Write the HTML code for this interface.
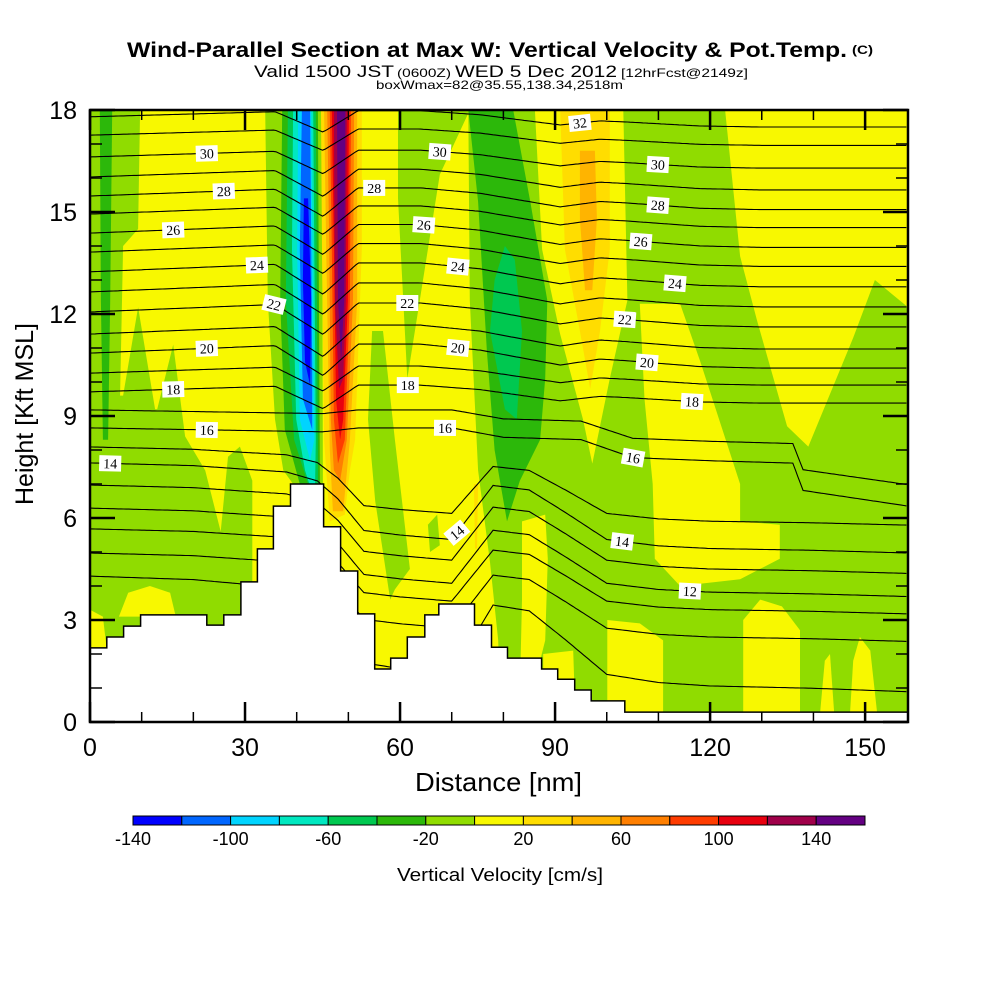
<!DOCTYPE html>
<html><head><meta charset="utf-8"><style>
html,body{margin:0;padding:0;background:#fff;}
svg{display:block;font-family:"Liberation Sans",sans-serif;}
</style></head><body>
<svg id="chart" width="1000" height="1000" viewBox="0 0 1000 1000" xmlns="http://www.w3.org/2000/svg">
<rect width="1000" height="1000" fill="#fff"/>
<g>
<text x="127" y="57" font-size="21" font-weight="bold" textLength="720" lengthAdjust="spacingAndGlyphs">Wind-Parallel Section at Max W: Vertical Velocity &amp; Pot.Temp.</text>
<text x="852" y="54" font-size="12" font-weight="bold" textLength="21" lengthAdjust="spacingAndGlyphs">(C)</text>
<text x="254" y="77" font-size="17" textLength="140" lengthAdjust="spacingAndGlyphs">Valid 1500 JST</text>
<text x="397" y="77" font-size="12" textLength="54" lengthAdjust="spacingAndGlyphs">(0600Z)</text>
<text x="455" y="77" font-size="17" textLength="162" lengthAdjust="spacingAndGlyphs">WED 5 Dec 2012</text>
<text x="621" y="77" font-size="12" textLength="127" lengthAdjust="spacingAndGlyphs">[12hrFcst@2149z]</text>
<text x="376" y="89" font-size="12" textLength="247" lengthAdjust="spacingAndGlyphs">boxWmax=82@35.55,138.34,2518m</text>
</g>
<defs><clipPath id="plotClip"><rect x="90" y="110" width="818" height="612"/></clipPath></defs>
<g id="fills" clip-path="url(#plotClip)"></g>
<g id="contours" clip-path="url(#plotClip)"></g>
<g id="terrain"></g>
<g id="labels" clip-path="url(#plotClip)"></g>
<g id="axes"></g>
<g id="colorbar"></g>
</svg>
<script>
// ---- data ----
const xMax = 158.3, yMax = 18;
const yTicks = [0,3,6,9,12,15,18];
const xTicks = [0,30,60,90,120,150];
const cbLevels = [-140,-120,-100,-80,-60,-40,-20,0,20,40,60,80,100,120,140,160];
const cbColors = ["#0000ff","#0066ff","#00d4ff","#00e8c0","#00c850","#2cb80a","#90dc00","#f8f800","#ffdd00","#ffb400","#ff7f00","#ff3c00","#e8000f","#a0004a","#640082"];
const cbLabels = [-140,-100,-60,-20,20,60,100,140];

const terrainEdges = [0,3.25,6.5,9.8,22.6,25.9,29.2,32.4,35.5,38.8,45.2,48.5,51.8,55.1,58.2,61.4,64.8,67.5,74.4,77.7,80.8,87.4,90.5,93.8,97.0,103.5,158.3];
const terrainHeights = [2.18,2.5,2.82,3.15,2.85,3.15,4.12,5.09,6.35,7.0,5.74,4.44,3.18,1.56,1.88,2.5,3.15,3.47,2.85,2.2,1.88,1.56,1.26,0.94,0.62,0.29];

const thetaLevels = [9,10,11,12,13,14,15,16,17,18,19,20,21,22,23,24,25,26,27,28,29,30,31,32];
const thetaLeft = [4.29,4.97,5.68,6.29,6.97,7.62,8.09,8.65,9.18,9.71,10.26,10.85,11.41,12.06,12.65,13.24,13.82,14.38,14.94,15.47,16.03,16.62,17.26,17.8];
const thetaDrop = [3.4,2.6,2.5,2.6,2.6,2.65,2.3,2.3,2.2,0.33,0.35,0.44,0.44,0.44,0.44,0.44,0.42,0.42,0.4,0.4,0.38,0.33,0.3,0.3];
const thetaShape = [0,0,0,0,0,0,0,1,1,2,2,2,2,2,2,2,2,2,2,2,2,2,2,2];
const shapeKnots = [
 [0,20,30,38,44,48,53,60,70,74,78,85,92,100,110,120,140,158.3],
 [0,45,52,70,80,95,105,120,136,138,158.3],
 [0,35.8,45.1,51.9,63.9,75.5,91,98.7,103.5,118,129.7,158.3]];
const shapeVals = [
 [0,0.03,0.07,0.1,0.2,0.4,0.75,0.8,0.85,0.55,0.25,0.3,0.55,0.85,0.92,0.95,0.97,1],
 [0,0.05,0,0,0.12,0.15,0.38,0.42,0.45,0.8,1],
 [0,-0.5,1.5,-0.6,-0.6,-0.2,0.8,0.4,0.5,0.9,1,1]];

const labelLevels = [30,28,26,24,22,20,18,16,14,30,28,26,24,22,20,18,16,32,30,28,26,24,22,20,18,16,14,14,12];
const labelDist = [22.6,25.9,16.1,32.3,35.6,22.6,16.1,22.6,3.9,67.7,55.0,64.6,71.2,61.4,71.2,61.5,68.7,94.8,109.9,109.9,106.6,113.2,103.5,107.8,116.5,105.1,71,103,116.1];

const regionColors = ["#90dc00","#90dc00","#f8f800","#f8f800","#2cb80a",
 "#90dc00","#2cb80a","#00c850","#00e8c0","#00d4ff","#0066ff","#0000ff",
 "#ffdd00","#ffb400","#ff7f00","#ff3c00","#e8000f","#a0004a","#640082",
 "#90dc00","#90dc00","#90dc00","#90dc00",
 "#f8f800","#ffdd00","#ffb400","#f8f800","#f8f800","#f8f800","#f8f800","#f8f800","#f8f800","#f8f800","#f8f800",
 "#2cb80a","#00c850","#ffdd00"];
const regionPolys = [
 [[0,18],[9.7,18],[9.3,14.5],[6.4,14.0],[5.8,9.5],[0,8.9]],
 [[0,9.2],[5.8,9.6],[6.4,9.6],[9.3,12.2],[12.6,9.2],[13.0,9.2],[16.1,11.1],[18.4,8.4],[22.3,7.4],[25.3,5.6],[26.7,7.8],[29.0,8.1],[31.4,7.1],[31.4,0],[0,0]],
 [[0,3.3],[2.5,3.1],[3.2,2.2],[0,2.1]],
 [[5.6,3.1],[7.4,3.8],[11.6,4.0],[15.5,3.8],[16.6,3.1]],
 [[1.9,18],[4.3,18],[3.9,12.4],[3.5,8.3],[2.5,8.3],[2.1,12.4]],
 [[33.9,18],[44.9,18],[45.1,5.7],[41.6,5.7],[39.3,7.0],[37.4,7.4],[35.8,8.9],[34.4,12.4]],
 [[37.2,18],[44.1,18],[44.5,7.1],[44.9,5.7],[42.6,5.7],[40.6,7.0],[37.7,8.6],[36.8,12.4]],
 [[38.3,18],[43.7,18],[44.1,7.4],[44.1,5.9],[42.6,6.8],[39.5,8.3],[37.9,12.4]],
 [[39.3,18],[43.2,18],[43.7,8.3],[43.5,6.5],[41.6,7.4],[39.9,8.9],[39.1,13.9]],
 [[40.3,18],[42.8,18],[43.4,8.3],[42.6,7.7],[40.6,8.9],[40.1,13.9]],
 [[41.0,18],[42.6,18],[43.0,10.4],[43.0,8.6],[41.2,9.5],[40.6,13.9]],
 [[41.4,15.4],[42.2,15.4],[42.8,12.4],[42.6,9.9],[41.6,10.6],[41.2,13.0]],
 [[44.7,18],[52.6,18],[52.6,13.9],[51.3,8.3],[50.3,7.4],[49.3,6.1],[46.4,5.9],[45.7,7.4],[45.3,8.3],[44.9,13.9]],
 [[45.3,18],[51.7,18],[51.7,12.4],[50.3,8.3],[49.0,6.2],[47.0,6.2],[46.4,8.0],[45.7,13.9]],
 [[45.9,18],[51.1,18],[50.9,12.4],[49.7,8.3],[48.4,7.1],[47.2,7.4],[46.6,8.9],[46.3,13.9]],
 [[46.4,18],[50.5,18],[50.3,12.4],[49.3,8.3],[48.0,7.6],[47.2,8.9],[46.8,13.9]],
 [[46.8,18],[50.1,18],[49.9,12.4],[49.0,8.9],[48.4,8.3],[47.6,9.5],[47.2,13.9]],
 [[47.2,18],[49.7,18],[49.5,12.4],[49.0,10.1],[48.2,9.8],[47.4,12.4]],
 [[47.8,18],[49.4,18],[49.2,12.4],[48.6,10.6],[48.0,12.4]],
 [[54.6,11.5],[56.7,11.5],[59.0,8.3],[61.9,4.5],[59.0,3.9],[58.1,3.6],[55.2,6.5],[53.8,8.9]],
 [[65.4,5.8],[67.2,6.1],[67.7,5.2],[65.8,5.0]],
 [[59.6,18],[73.5,18],[67.7,16.1],[61.4,10.1],[59.6,15.4]],
 [[73.2,18],[158.3,18],[158.3,0],[79.4,0],[79.0,2.4],[77.4,4.7],[75.1,7.4],[73.5,12.4]],
 [[86.1,18],[103.2,18],[104,12.4],[100.6,10.1],[97.2,7.6],[95.4,8.9],[91.0,11.4],[87.5,13.9]],
 [[91.0,18],[100.6,18],[100.6,13.9],[98.7,11.5],[96.8,9.8],[94.8,11.5],[91.9,13.9]],
 [[94.8,16.8],[97.7,16.8],[98.1,14.8],[97.2,12.7],[95.8,12.7],[94.8,14.8]],
 [[106.4,12.3],[114.2,12.3],[118.1,10.6],[125.8,7.0],[125.8,5.9],[133.5,5.8],[133.5,4.8],[125.8,4.2],[114.2,4.0],[109.3,4.8],[108.9,7.0],[107.3,9.5]],
 [[122.9,18],[158.3,18],[158.3,12.2],[151.9,13.0],[147.7,11.3],[139,8.1],[134.9,8.7],[129.1,11.8],[125.8,13.7]],
 [[83.6,5.9],[88.1,6.1],[88.6,4.8],[88.1,2.4],[86.1,1.2],[83.2,0.9],[83.6,3.6]],
 [[87.7,2.0],[93.5,2.1],[93.9,0.3],[87.7,0.3]],
 [[100.1,3.0],[106.4,2.9],[110.9,2.4],[110.9,0],[100.1,0]],
 [[126.4,3.0],[129.7,3.6],[133.9,3.4],[137.4,2.7],[137.4,0],[126.4,0]],
 [[141.3,0.3],[142.2,1.8],[143.2,2.0],[144,0.3]],
 [[147.1,0.3],[147.7,1.8],[149,2.5],[151,2.1],[152.3,0.3]],
 [[73.2,18],[81.9,18],[85.2,15.3],[88.5,12.4],[88.1,10.1],[87.1,8.3],[83.2,7.1],[80.7,5.9],[78.3,8.0],[76.8,10.9],[75.1,15.3]],
 [[80.3,14.0],[82.2,13.6],[83.6,11.5],[82.6,8.9],[80.3,9.2],[77.4,11.5],[78.3,13.0]],
 [[74.3,7.0],[75.1,7.0],[74.9,5.1],[74.5,5.1]]
];

// ---- scales ----
const PX0=90, PX1=908, PY0=722, PY1=110;
const X = nm => PX0 + nm*(PX1-PX0)/xMax;
const Y = k => PY0 - k*(PY0-PY1)/yMax;
const NS = "http://www.w3.org/2000/svg";
function mk(tag, attrs, parent){const e=document.createElementNS(NS,tag);for(const k in attrs)e.setAttribute(k,attrs[k]);parent.appendChild(e);return e;}
function interp(xs, vs, x){ if(x<=xs[0])return vs[0]; for(let i=1;i<xs.length;i++){ if(x<=xs[i]){const t=(x-xs[i-1])/(xs[i]-xs[i-1]);return vs[i-1]+t*(vs[i]-vs[i-1]);} } return vs[vs.length-1]; }
function thetaY(i, nm){ const s=thetaShape[i]; return thetaLeft[i] - thetaDrop[i]*interp(shapeKnots[s], shapeVals[s], nm); }

const fills=document.getElementById('fills');
const bg=mk('rect',{x:PX0,y:PY1,width:PX1-PX0,height:PY0-PY1,fill:"#f8f800"},fills);


regionPolys.forEach((poly,i)=>{
  const p=mk('polygon',{points:poly.map(q=>X(q[0]).toFixed(1)+","+Y(q[1]).toFixed(1)).join(" "),fill:regionColors[i]},fills);
  
  
});

const cg=document.getElementById('contours');
thetaLevels.forEach((lv,i)=>{
  let d="";
  for(let nm=0; nm<=xMax+0.01; nm+=0.5){ d+=(nm===0?"M":"L")+X(nm).toFixed(1)+","+Y(thetaY(i,nm)).toFixed(1); }
  const p=mk('path',{d:d,fill:"none",stroke:"#000","stroke-width":1.1},cg);
  
  
});

const tg=document.getElementById('terrain');
let td="M"+X(0)+","+Y(0);
terrainHeights.forEach((h,i)=>{ td+=" L"+X(terrainEdges[i]).toFixed(1)+","+Y(h).toFixed(1)+" L"+X(terrainEdges[i+1]).toFixed(1)+","+Y(h).toFixed(1); });
td+=" L"+X(xMax)+","+Y(0)+" Z";
const tp=mk('path',{d:td,fill:"#fff",stroke:"#000","stroke-width":1.5},tg);



const lg=document.getElementById('labels');
labelLevels.forEach((lv,j)=>{
  const i=thetaLevels.indexOf(lv); const nm=labelDist[j];
  const x=X(nm), y=Y(thetaY(i,nm));
  const dy=Y(thetaY(i,nm+1.5))-Y(thetaY(i,nm-1.5)), dx=X(nm+1.5)-X(nm-1.5);
  let ang=Math.atan2(dy,dx)*180/Math.PI; ang=Math.max(-40,Math.min(40,ang));
  const g=mk('g',{transform:`translate(${x.toFixed(1)},${y.toFixed(1)}) rotate(${ang.toFixed(1)})`},lg);
  
  
  mk('rect',{x:-11,y:-8,width:22,height:16,fill:"#fff"},g);
  const t=mk('text',{x:0,y:5,"text-anchor":"middle","font-size":14,"font-family":"Liberation Serif, serif"},g);
  t.textContent=lv;
});

const ag=document.getElementById('axes');
const fr=mk('rect',{x:PX0,y:PY1,width:PX1-PX0,height:PY0-PY1,fill:"none",stroke:"#000","stroke-width":2.5},ag);


for(let k=0;k<=yMax;k++){
  const maj=k%3===0, L=maj?25:12, y=Y(k);
  mk('line',{x1:PX0,y1:y,x2:PX0+L,y2:y,stroke:"#000","stroke-width":maj?2.5:1.5},ag);
  mk('line',{x1:PX1,y1:y,x2:PX1-L,y2:y,stroke:"#000","stroke-width":maj?2.5:1.5},ag);
}
for(let n=0;n<=xMax;n+=10){
  const maj=n%30===0, L=maj?20:10, x=X(n);
  mk('line',{x1:x,y1:PY0,x2:x,y2:PY0-L,stroke:"#000","stroke-width":maj?2.5:1.5},ag);
  mk('line',{x1:x,y1:PY1,x2:x,y2:PY1+L,stroke:"#000","stroke-width":maj?2.5:1.5},ag);
}
yTicks.forEach(v=>{
  const t=mk('text',{x:77,y:Y(v)+9,"text-anchor":"end","font-size":25},ag);
  
  
  t.textContent=v;
});
xTicks.forEach(v=>{
  const t=mk('text',{x:X(v),y:756,"text-anchor":"middle","font-size":25},ag);
  
  
  t.textContent=v;
});
const xt=mk('text',{x:415,y:791,"font-size":26,textLength:167,lengthAdjust:"spacingAndGlyphs"},ag);


xt.textContent="Distance [nm]";
const yt=mk('text',{x:0,y:0,"font-size":25,"text-anchor":"middle",textLength:182,lengthAdjust:"spacingAndGlyphs",transform:"translate(33,414) rotate(-90)"},ag);


yt.textContent="Height [Kft MSL]";

const cb=document.getElementById('colorbar');
const CB0=133, CBW=(865-133)/cbColors.length;
cbColors.forEach((c,i)=>{
  const r=mk('rect',{x:(CB0+i*CBW).toFixed(1),y:816,width:CBW.toFixed(1),height:9,fill:c,stroke:"#000","stroke-width":1},cb);
  
  
});
cbLabels.forEach(v=>{
  const idx=cbLevels.indexOf(v);
  const t=mk('text',{x:(CB0+idx*CBW).toFixed(1),y:845,"text-anchor":"middle","font-size":18},cb);
  
  
  t.textContent=v;
});
const ct=mk('text',{x:397,y:881,"font-size":18,textLength:206,lengthAdjust:"spacingAndGlyphs"},cb);


ct.textContent="Vertical Velocity [cm/s]";
</script>
</body></html>
